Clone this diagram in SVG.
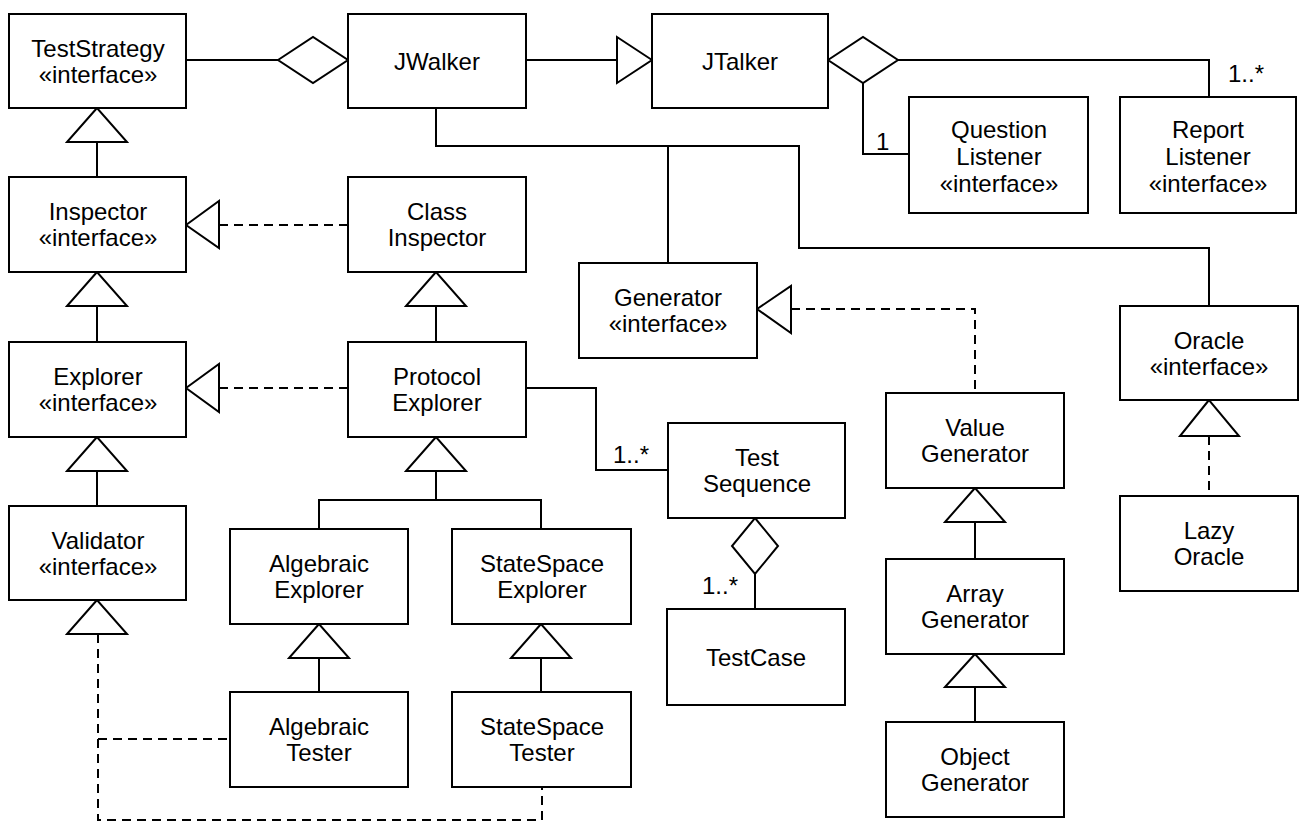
<svg xmlns="http://www.w3.org/2000/svg" width="1302" height="822" viewBox="0 0 1302 822">
<style>
  .box rect { fill: #ffffff; stroke: #000000; stroke-width: 2; }
  .box text { font-family: "Liberation Sans", Arial, sans-serif; font-size: 24px; text-anchor: middle; fill: #000000; }
  .conn path, .conn line { fill: none; stroke: #000000; stroke-width: 2; }
  .conn .dash { stroke-dasharray: 9 6; }
  .conn .head { fill: #ffffff; stroke: #000000; stroke-width: 2; stroke-linejoin: miter; }
  .lbl { font-family: "Liberation Sans", Arial, sans-serif; font-size: 24px; fill: #000000; }
</style>
<rect x="0" y="0" width="1302" height="822" fill="#ffffff"/>

<g id="connectors" class="conn">
  <!-- TestStrategy - JWalker aggregation -->
  <line x1="186" y1="60" x2="278" y2="60"/>
  <polygon class="head" points="278,60 313,37 348,60 313,83"/>
  <!-- JWalker -> JTalker -->
  <line x1="526" y1="60" x2="617" y2="60"/>
  <polygon class="head" points="652,60 617,37 617,83"/>
  <!-- JTalker aggregation to listeners -->
  <path d="M898,60 H1209 V97"/>
  <path d="M863,83 V154 H909"/>
  <polygon class="head" points="828,60 863,37 898,60 863,83"/>
  <!-- Generalizations left column -->
  <line x1="97" y1="142" x2="97" y2="177"/>
  <polygon class="head" points="97,108 67,142 127,142"/>
  <line x1="97" y1="306" x2="97" y2="342"/>
  <polygon class="head" points="97,272 67,306 127,306"/>
  <line x1="97" y1="471" x2="97" y2="506"/>
  <polygon class="head" points="97,437 67,471 127,471"/>
  <!-- Realizations -->
  <line class="dash" x1="219" y1="225" x2="348" y2="225"/>
  <polygon class="head" points="186,225 219,201 219,248"/>
  <line class="dash" x1="219" y1="388" x2="348" y2="388"/>
  <polygon class="head" points="186,388 219,364 219,412"/>
  <!-- ClassInspector -> ProtocolExplorer -->
  <line x1="436" y1="306" x2="436" y2="342"/>
  <polygon class="head" points="436,272 406,306 466,306"/>
  <!-- ProtocolExplorer -> Algebraic/StateSpace Explorer -->
  <path d="M436,471 V500"/>
  <path d="M319,529 V500 H541 V529"/>
  <polygon class="head" points="436,437 406,471 466,471"/>
  <!-- Explorers -> Testers -->
  <line x1="319" y1="658" x2="319" y2="692"/>
  <polygon class="head" points="319,624 289,658 349,658"/>
  <line x1="541" y1="658" x2="541" y2="692"/>
  <polygon class="head" points="541,624 511,658 571,658"/>
  <!-- Validator realization -->
  <path class="dash" d="M98,634 V820 H542 V787"/>
  <path class="dash" d="M98,739 H230"/>
  <polygon class="head" points="97,600 67,634 127,634"/>
  <!-- JWalker to Generator and Oracle -->
  <path d="M436,108 V146 H799 V248 H1209 V306"/>
  <path d="M668,146 V263"/>
  <!-- Generator realized by ValueGenerator -->
  <path class="dash" d="M791,309 H975 V393"/>
  <polygon class="head" points="757,309 791,286 791,333"/>
  <!-- ProtocolExplorer - TestSequence -->
  <path d="M526,388 H596 V470 H668"/>
  <!-- TestSequence aggregation TestCase -->
  <line x1="755" y1="574" x2="755" y2="609"/>
  <polygon class="head" points="755,518 778,546 755,574 732,546"/>
  <!-- Generator hierarchy -->
  <line x1="975" y1="522" x2="975" y2="559"/>
  <polygon class="head" points="975,488 945,522 1005,522"/>
  <line x1="975" y1="687" x2="975" y2="722"/>
  <polygon class="head" points="975,654 945,687 1005,687"/>
  <!-- Oracle realized by LazyOracle -->
  <line class="dash" x1="1209" y1="436" x2="1209" y2="496"/>
  <polygon class="head" points="1209,400 1180,436 1239,436"/>
  <!-- multiplicity labels -->
  <text class="lbl" x="876" y="150">1</text>
  <text class="lbl" x="1228" y="82">1..*</text>
  <text class="lbl" x="613" y="463">1..*</text>
  <text class="lbl" x="702" y="594">1..*</text>
</g>

<g id="TestStrategy" class="box">
  <rect x="9" y="14" width="177" height="94"/>
  <text x="98" y="57">TestStrategy</text>
  <text x="98" y="83">«interface»</text>
</g>
<g id="JWalker" class="box">
  <rect x="348" y="14" width="178" height="94"/>
  <text x="437" y="70">JWalker</text>
</g>
<g id="JTalker" class="box">
  <rect x="652" y="14" width="176" height="94"/>
  <text x="740" y="70">JTalker</text>
</g>
<g id="QuestionListener" class="box">
  <rect x="909" y="97" width="179" height="116"/>
  <text x="999" y="138">Question</text>
  <text x="999" y="165">Listener</text>
  <text x="999" y="192">«interface»</text>
</g>
<g id="ReportListener" class="box">
  <rect x="1120" y="97" width="176" height="116"/>
  <text x="1208" y="138">Report</text>
  <text x="1208" y="165">Listener</text>
  <text x="1208" y="192">«interface»</text>
</g>
<g id="Inspector" class="box">
  <rect x="9" y="177" width="177" height="95"/>
  <text x="98" y="220">Inspector</text>
  <text x="98" y="246">«interface»</text>
</g>
<g id="ClassInspector" class="box">
  <rect x="348" y="177" width="178" height="95"/>
  <text x="437" y="220">Class</text>
  <text x="437" y="246">Inspector</text>
</g>
<g id="Explorer" class="box">
  <rect x="9" y="342" width="177" height="95"/>
  <text x="98" y="385">Explorer</text>
  <text x="98" y="411">«interface»</text>
</g>
<g id="ProtocolExplorer" class="box">
  <rect x="348" y="342" width="178" height="95"/>
  <text x="437" y="385">Protocol</text>
  <text x="437" y="411">Explorer</text>
</g>
<g id="Generator" class="box">
  <rect x="579" y="263" width="178" height="95"/>
  <text x="668" y="306">Generator</text>
  <text x="668" y="332">«interface»</text>
</g>
<g id="Oracle" class="box">
  <rect x="1120" y="306" width="178" height="94"/>
  <text x="1209" y="349">Oracle</text>
  <text x="1209" y="375">«interface»</text>
</g>
<g id="Validator" class="box">
  <rect x="9" y="506" width="177" height="94"/>
  <text x="98" y="549">Validator</text>
  <text x="98" y="575">«interface»</text>
</g>
<g id="AlgebraicExplorer" class="box">
  <rect x="230" y="529" width="178" height="95"/>
  <text x="319" y="572">Algebraic</text>
  <text x="319" y="598">Explorer</text>
</g>
<g id="StateSpaceExplorer" class="box">
  <rect x="452" y="529" width="179" height="95"/>
  <text x="542" y="572">StateSpace</text>
  <text x="542" y="598">Explorer</text>
</g>
<g id="AlgebraicTester" class="box">
  <rect x="230" y="692" width="178" height="95"/>
  <text x="319" y="735">Algebraic</text>
  <text x="319" y="761">Tester</text>
</g>
<g id="StateSpaceTester" class="box">
  <rect x="452" y="692" width="179" height="95"/>
  <text x="542" y="735">StateSpace</text>
  <text x="542" y="761">Tester</text>
</g>
<g id="TestSequence" class="box">
  <rect x="668" y="423" width="177" height="95"/>
  <text x="757" y="466">Test</text>
  <text x="757" y="492">Sequence</text>
</g>
<g id="TestCase" class="box">
  <rect x="667" y="609" width="178" height="96"/>
  <text x="756" y="666">TestCase</text>
</g>
<g id="ValueGenerator" class="box">
  <rect x="886" y="393" width="178" height="95"/>
  <text x="975" y="436">Value</text>
  <text x="975" y="462">Generator</text>
</g>
<g id="ArrayGenerator" class="box">
  <rect x="886" y="559" width="178" height="95"/>
  <text x="975" y="602">Array</text>
  <text x="975" y="628">Generator</text>
</g>
<g id="ObjectGenerator" class="box">
  <rect x="886" y="722" width="178" height="95"/>
  <text x="975" y="765">Object</text>
  <text x="975" y="791">Generator</text>
</g>
<g id="LazyOracle" class="box">
  <rect x="1120" y="496" width="178" height="95"/>
  <text x="1209" y="539">Lazy</text>
  <text x="1209" y="565">Oracle</text>
</g>
</svg>
